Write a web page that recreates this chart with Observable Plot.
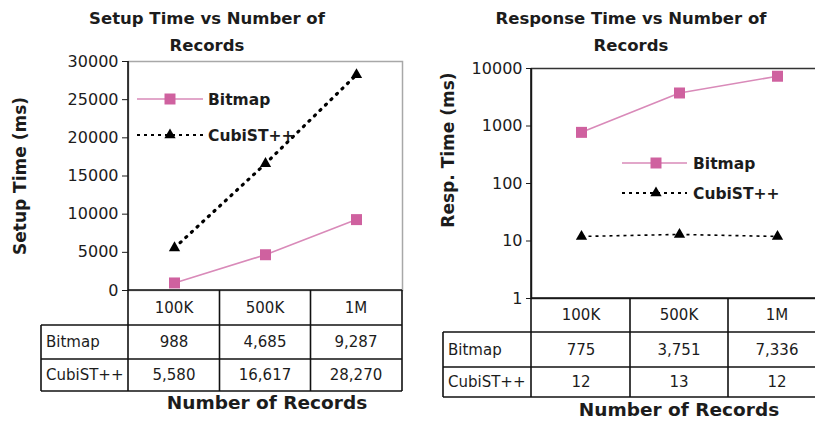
<!DOCTYPE html>
<html><head><meta charset="utf-8">
<script src="https://cdn.jsdelivr.net/npm/d3@7"></script>
<script src="https://cdn.jsdelivr.net/npm/@observablehq/plot@0.6"></script>
<style>
html,body{margin:0;padding:0;background:#fff;}
#wrap{position:relative;width:815px;height:421px;overflow:hidden;background:#fff;}
.panel{position:absolute;top:0;}
.panel svg{max-width:none !important;}
</style></head><body><div id="wrap"></div>
<script>
// ---- data ----
const records = ["100K", "500K", "1M"];
const seriesNames = ["Bitmap", "CubiST++"];
const setupBitmap = [988, 4685, 9287];
const setupCubist = [5580, 16617, 28270];
const respBitmap = [775, 3751, 7336];
const respCubist = [12, 13, 12];
const setupTicks = [0, 5000, 10000, 15000, 20000, 25000, 30000];
const respTicks = [1, 10, 100, 1000, 10000];
const setupTitle = ["Setup Time vs Number of", "Records"];
const respTitle = ["Response Time vs Number of", "Records"];
const setupYLabel = "Setup Time (ms)";
const respYLabel = "Resp. Time (ms)";
const xLabel = "Number of Records";

const FONT = "DejaVu Sans";
const PINK_LINE = "#d98ab9";
const PINK_MARK = "#cf619f";
const INK = "#1c1c1c";

function rowsOf(bitmap, cubist) {
  return {
    bitmap: records.map((r, i) => ({record: r, series: seriesNames[0], value: bitmap[i]})),
    cubist: records.map((r, i) => ({record: r, series: seriesNames[1], value: cubist[i]}))
  };
}

function text(g, x, y, s, opt = {}) {
  const t = g.append("text")
    .attr("font-family", FONT)
    .attr("font-size", opt.size || 15)
    .attr("font-weight", opt.weight || "normal")
    .attr("fill", INK)
    .attr("text-anchor", opt.anchor || "middle")
    .attr("dy", "0.36em")
    .text(s);
  if (opt.rotate) t.attr("transform", `translate(${x},${y}) rotate(${opt.rotate})`);
  else t.attr("x", x).attr("y", y);
  return t;
}

function makePanel(cfg) {
  const d = rowsOf(cfg.bitmap, cfg.cubist);
  const plot = Plot.plot({
    width: cfg.width,
    height: 421,
    marginLeft: cfg.marginLeft,
    marginRight: cfg.marginRight,
    marginTop: cfg.marginTop,
    marginBottom: cfg.marginBottom,
    style: {fontFamily: FONT, fontSize: "16px", color: INK, background: "transparent", overflow: "visible", maxWidth: "none"},
    x: {type: "point", domain: records, padding: 0.5, align: 0.5, axis: null},
    y: {
      type: cfg.yType, domain: cfg.domain, ticks: cfg.ticks,
      tickFormat: d => String(d), tickSize: cfg.tickSize, tickPadding: 4, label: null
    },
    marks: [
      Plot.frame({stroke: cfg.frameStroke, strokeWidth: 1.5}),
      Plot.line(d.bitmap, {x: "record", y: "value", stroke: PINK_LINE, strokeWidth: 1.6}),
      Plot.dot(d.bitmap, {x: "record", y: "value", symbol: "square", r: 6.2, fill: PINK_MARK}),
      Plot.line(d.cubist, {x: "record", y: "value", stroke: "#000", strokeWidth: cfg.cubistWidth,
        strokeDasharray: cfg.cubistDash, strokeLinecap: cfg.cubistCap}),
      Plot.dot(d.cubist, {x: "record", y: "value", symbol: "triangle", r: 4.2, fill: "#000"})
    ]
  });

  const svg = d3.select(plot);
  const xs = plot.scale("x"), ys = plot.scale("y");
  const cx = records.map(r => xs.apply(r));
  const [x0, x1] = xs.range;
  const bounds = [x0, (cx[0] + cx[1]) / 2, (cx[1] + cx[2]) / 2, x1];
  const top = ys.apply(cfg.domain[0]);
  const yTop = ys.apply(cfg.domain[1]);
  const rowY = cfg.rowOffsets.map(o => top + o);
  const g = svg.append("g");
  const line = (xa, ya, xb, yb) => g.append("line").attr("x1", xa).attr("y1", ya).attr("x2", xb).attr("y2", yb)
    .attr("stroke", "#111").attr("stroke-width", 1.6);

  // table grid
  line(x0, yTop, x0, rowY[3]);
  line(x0, top, x1, top);
  for (let i = 1; i < 4; i++) line(cfg.labelLeft, rowY[i], x1, rowY[i]);
  line(cfg.labelLeft, rowY[1], cfg.labelLeft, rowY[3]);
  for (let i = 1; i < 4; i++) line(bounds[i], top, bounds[i], rowY[3]);

  // table texts
  const mid = i => (rowY[i] + rowY[i + 1]) / 2;
  records.forEach((r, i) => text(g, cx[i], mid(0), r, {size: 15}));
  const fmt = d3.format(",");
  text(g, cfg.labelLeft + 5, mid(1), seriesNames[0], {size: 15, anchor: "start"});
  text(g, cfg.labelLeft + 5, mid(2), seriesNames[1], {size: 15, anchor: "start"});
  d.bitmap.forEach((p, i) => text(g, cx[i], mid(1), fmt(p.value), {size: 15}));
  d.cubist.forEach((p, i) => text(g, cx[i], mid(2), fmt(p.value), {size: 15}));

  // titles and axis labels
  cfg.title.forEach((s, i) => text(g, cfg.titleX, cfg.titleY[i], s, {size: 16.5, weight: "bold"}));
  text(g, cfg.yLabelX, cfg.yLabelY, cfg.yLabel, {size: 17, weight: "bold", rotate: -90});
  text(g, cfg.xLabelX, cfg.xLabelY, xLabel, {size: 18.5, weight: "bold"});

  // legend
  const L = cfg.legend;
  const sq = d3.symbol(d3.symbolSquare, 6.2 * 6.2 * Math.PI)();
  const tri = d3.symbol(d3.symbolTriangle, 4.2 * 4.2 * Math.PI)();
  g.append("line").attr("x1", L.x0).attr("x2", L.x1).attr("y1", L.ys[0]).attr("y2", L.ys[0])
    .attr("stroke", PINK_LINE).attr("stroke-width", 1.6);
  g.append("path").attr("d", sq).attr("fill", PINK_MARK).attr("transform", `translate(${L.xm},${L.ys[0]})`);
  g.append("line").attr("x1", L.x0).attr("x2", L.x1).attr("y1", L.ys[1]).attr("y2", L.ys[1])
    .attr("stroke", "#000").attr("stroke-width", 1.8).attr("stroke-dasharray", "3 4");
  g.append("path").attr("d", tri).attr("fill", "#000").attr("transform", `translate(${L.xm},${L.ys[1]})`);
  text(g, L.xt, L.ys[0], seriesNames[0], {size: 15.5, weight: "bold", anchor: "start"});
  text(g, L.xt, L.ys[1], seriesNames[1], {size: 15.5, weight: "bold", anchor: "start"});

  const holder = document.createElement("div");
  holder.className = "panel";
  holder.style.left = cfg.left + "px";
  holder.style.width = cfg.width + "px";
  holder.appendChild(plot);
  document.getElementById("wrap").appendChild(holder);
}

makePanel({
  left: 0, width: 410, marginLeft: 128, marginRight: 8, marginTop: 61, marginBottom: 131,
  yType: "linear", domain: [0, 30000], ticks: setupTicks, tickSize: 6,
  bitmap: setupBitmap, cubist: setupCubist,
  frameStroke: "#a8a8a8", cubistWidth: 3.2, cubistDash: "1.2 6.5", cubistCap: "round",
  rowOffsets: [0, 35, 69, 101], labelLeft: 41,
  title: setupTitle, titleX: 207, titleY: [18, 45],
  yLabel: setupYLabel, yLabelX: 20, yLabelY: 176,
  xLabelX: 267, xLabelY: 402,
  legend: {x0: 137, x1: 203, xm: 170, xt: 208, ys: [99, 135]}
});

makePanel({
  left: 410, width: 420, marginLeft: 121, marginRight: 3.5, marginTop: 68, marginBottom: 123,
  yType: "log", domain: [1, 10000], ticks: respTicks, tickSize: 5,
  bitmap: respBitmap, cubist: respCubist,
  frameStroke: "#333", cubistWidth: 1.6, cubistDash: "3 4", cubistCap: "butt",
  rowOffsets: [0, 34, 69, 99], labelLeft: 33,
  title: respTitle, titleX: 221, titleY: [18, 45],
  yLabel: respYLabel, yLabelX: 38, yLabelY: 150,
  xLabelX: 269, xLabelY: 409,
  legend: {x0: 212, x1: 277, xm: 246, xt: 283, ys: [163, 193]}
});
</script></body></html>
